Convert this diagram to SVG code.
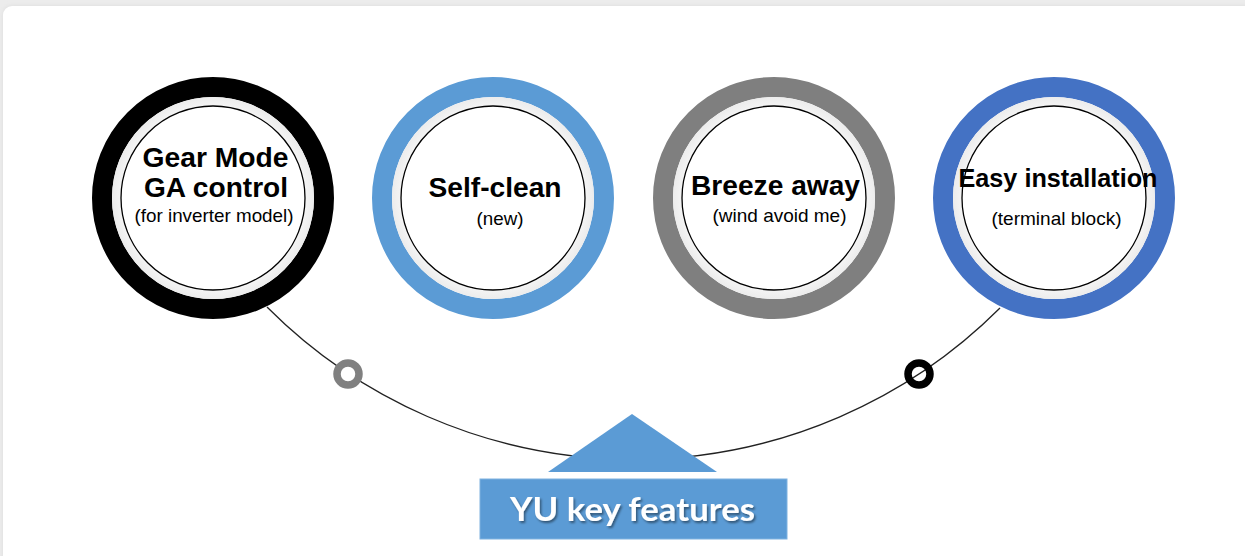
<svg xmlns="http://www.w3.org/2000/svg" width="1245" height="556" viewBox="0 0 1245 556">
  <defs>
    <filter id="cardShadow" x="-5%" y="-5%" width="110%" height="110%">
      <feGaussianBlur stdDeviation="2"/>
    </filter>
    <filter id="txtShadow" x="-10%" y="-30%" width="120%" height="160%">
      <feDropShadow dx="1.5" dy="2" stdDeviation="1.2" flood-color="#000" flood-opacity="0.45"/>
    </filter>
    <radialGradient id="gap" cx="50%" cy="50%" r="50%">
      <stop offset="88%" stop-color="#f7f7f7"/>
      <stop offset="100%" stop-color="#ececec"/>
    </radialGradient>
  </defs>
  <style>
    .ring { fill: none; stroke-width: 20; }
    .gapc { fill: url(#gap); }
    .inner { fill: #ffffff; stroke: #000000; stroke-width: 1.3; }
    .title { font-family: "Liberation Sans", Arial, sans-serif; font-weight: bold; font-size: 28px; fill: #000; text-anchor: middle; }
    .sub { font-family: "Liberation Sans", Arial, sans-serif; font-size: 18.5px; fill: #000; text-anchor: middle; }
    .conn { fill: none; stroke: #222; stroke-width: 1.3; }
    .label { font-family: Lato, "Open Sans", sans-serif; font-weight: bold; font-size: 33px; fill: #ffffff; text-anchor: middle; }
  </style>

  <rect x="0" y="0" width="1245" height="556" fill="#ececec"/>
  <rect x="3" y="6" width="1260" height="560" rx="9" fill="#dcdcdc" filter="url(#cardShadow)"/>
  <rect x="3" y="6" width="1260" height="560" rx="9" fill="#ffffff"/>

  <g id="connectors">
    <path class="conn" d="M 267 307 A 518 518 0 0 0 1000 308"/>
  </g>

  <g id="dot-grey">
    <circle cx="348" cy="374" r="11" fill="#ffffff" stroke="#808080" stroke-width="7.5"/>
  </g>
  <g id="dot-black">
    <circle cx="919" cy="374" r="11" fill="none" stroke="#000000" stroke-width="7.5"/>
  </g>

  <g id="node-gear">
    <circle class="ring" cx="213" cy="198" r="111" stroke="#000000"/>
    <circle class="gapc" cx="213" cy="198" r="101"/>
    <circle class="inner" cx="213" cy="198" r="92"/>
    <text class="title" x="215.5" y="166.5" textLength="146" lengthAdjust="spacingAndGlyphs">Gear Mode</text>
    <text class="title" x="216" y="196.5" textLength="144" lengthAdjust="spacingAndGlyphs">GA control</text>
    <text class="sub" x="214" y="221.5" textLength="159" lengthAdjust="spacingAndGlyphs">(for inverter model)</text>
  </g>

  <g id="node-selfclean">
    <circle class="ring" cx="493" cy="198" r="111" stroke="#5b9bd5"/>
    <circle class="gapc" cx="493" cy="198" r="101"/>
    <circle class="inner" cx="493" cy="198" r="92"/>
    <text class="title" x="495" y="196.5" textLength="133" lengthAdjust="spacingAndGlyphs">Self-clean</text>
    <text class="sub" x="500" y="225" textLength="47" lengthAdjust="spacingAndGlyphs">(new)</text>
  </g>

  <g id="node-breeze">
    <circle class="ring" cx="774" cy="198" r="111" stroke="#7f7f7f"/>
    <circle class="gapc" cx="774" cy="198" r="101"/>
    <circle class="inner" cx="774" cy="198" r="92"/>
    <text class="title" x="775.5" y="195" textLength="169" lengthAdjust="spacingAndGlyphs">Breeze away</text>
    <text class="sub" x="779.5" y="221.5" textLength="134" lengthAdjust="spacingAndGlyphs">(wind avoid me)</text>
  </g>

  <g id="node-install">
    <circle class="ring" cx="1054" cy="198" r="111" stroke="#4472c4"/>
    <circle class="gapc" cx="1054" cy="198" r="101"/>
    <circle class="inner" cx="1054" cy="198" r="92"/>
    <text class="title" x="1058" y="186.5" style="font-size:25px" textLength="199" lengthAdjust="spacingAndGlyphs">Easy installation</text>
    <text class="sub" x="1056.5" y="225" textLength="130" lengthAdjust="spacingAndGlyphs">(terminal block)</text>
  </g>

  <g id="node-yu">
    <polygon points="632,414 548,472 717,472" fill="#5b9bd5"/>
    <rect x="480" y="479" width="307" height="60" fill="#5b9bd5" stroke="#7fb2e0" stroke-width="1"/>
    <text class="label" x="632.5" y="521" textLength="245" lengthAdjust="spacingAndGlyphs" filter="url(#txtShadow)">YU key features</text>
  </g>
</svg>
